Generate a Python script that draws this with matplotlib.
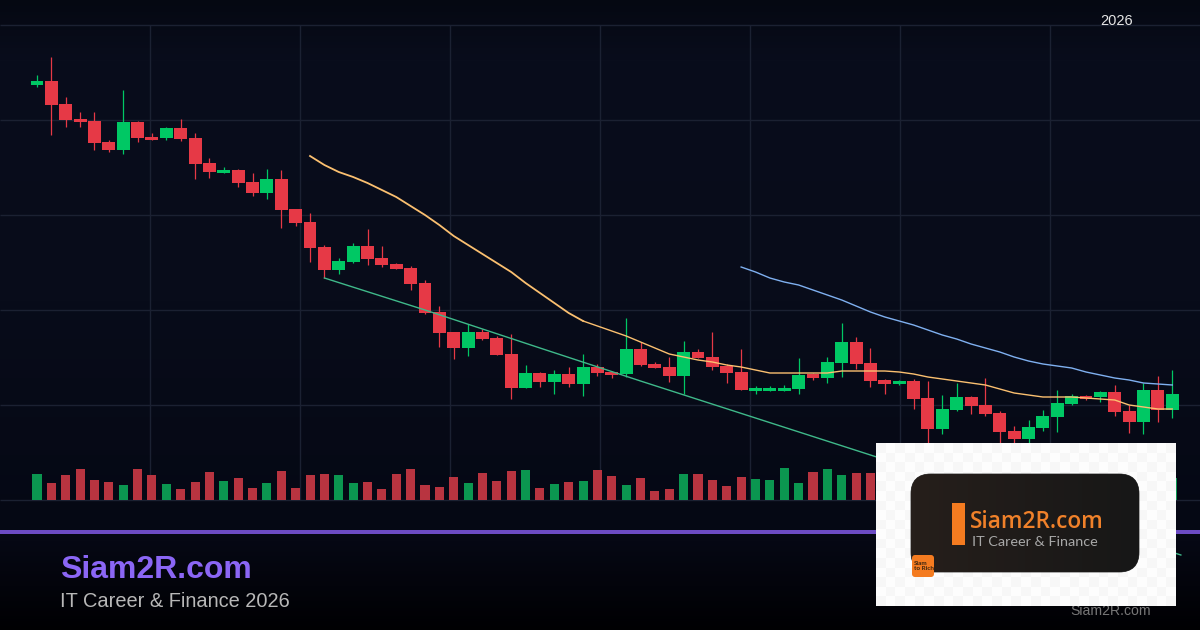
import numpy as np
import matplotlib
matplotlib.use("Agg")
import matplotlib.pyplot as plt
from matplotlib.patches import FancyBboxPatch, Rectangle

# prezzi (nessuna scala nel riferimento, unita' arbitrarie)
opens = [415, 419, 396, 381, 379, 358, 350, 378, 363, 362,
         372, 362, 337, 327, 330, 318, 307, 321, 291, 278,
         253, 230, 238, 254, 242, 236, 232, 217, 188, 168,
         152, 168, 162, 146, 112, 127, 118, 126, 116, 133,
         128, 126, 151, 136, 133, 124, 148, 143, 134, 128,
         109, 109, 109, 111, 126, 122, 137, 158, 137, 120,
         116, 119, 102, 71, 90, 103, 95, 87, 69, 61,
         72, 83, 96, 104, 103, 108, 89, 78, 110, 90]
closes = [419, 395, 380, 378, 357, 350, 378, 362, 360, 372,
          361, 336, 328, 330, 317, 307, 321, 290, 277, 252,
          230, 239, 254, 241, 235, 231, 216, 187, 167, 152,
          168, 161, 145, 112, 127, 118, 126, 116, 133, 127,
          125, 151, 135, 132, 124, 148, 142, 133, 127, 110,
          112, 112, 112, 125, 122, 138, 158, 136, 119, 116,
          119, 101, 71, 91, 103, 94, 86, 68, 61, 73,
          84, 97, 104, 101, 108, 88, 78, 110, 90, 106]
highs = [425, 443, 403, 388, 388, 360, 410, 379, 367, 373,
         381, 367, 342, 333, 331, 327, 331, 330, 291, 287,
         255, 242, 257, 271, 254, 237, 234, 220, 194, 168,
         176, 171, 164, 166, 135, 128, 130, 133, 146, 136,
         129, 182, 158, 138, 143, 159, 151, 168, 136, 151,
         114, 114, 115, 142, 127, 143, 177, 163, 152, 121,
         120, 121, 119, 105, 117, 104, 122, 89, 74, 80,
         90, 110, 106, 105, 109, 115, 95, 117, 124, 130]
lows = [413, 365, 373, 373, 350, 348, 346, 358, 360, 360,
        359, 321, 322, 327, 313, 304, 301, 272, 274, 238,
        222, 226, 237, 235, 233, 231, 210, 186, 153, 141,
        144, 160, 145, 101, 112, 113, 106, 113, 104, 124,
        122, 123, 134, 132, 118, 106, 142, 130, 117, 110,
        106, 109, 109, 106, 120, 117, 123, 131, 113, 106,
        115, 91, 50, 66, 89, 86, 84, 50, 50, 50,
        69, 68, 95, 100, 98, 84, 67, 66, 78, 82]
# i volumi da 59 a 78 sono coperti dal logo: stimati
volumes = [26, 17, 25, 31, 20, 18, 15, 31, 25, 16,
           11, 18, 28, 19, 22, 12, 17, 29, 12, 25,
           26, 25, 17, 18, 11, 26, 31, 15, 13, 23,
           17, 27, 19, 29, 30, 12, 16, 18, 19, 30,
           24, 15, 22, 9, 11, 26, 26, 20, 14, 23,
           21, 20, 32, 17, 28, 31, 25, 27, 27, 20,
           18, 24, 26, 22, 19, 16, 21, 25, 27, 22,
           18, 20, 14, 17, 16, 24, 23, 28, 26, 22]

# medie mobili
ma_fast_start = 19
ma_fast = [344, 335, 328, 323, 317, 310, 303, 294, 285, 275,
           264, 255, 246, 237, 228, 217, 207, 197, 187, 179,
           174, 169, 164, 158, 152, 146, 143, 140, 138, 135,
           133, 130, 127, 127, 127, 127, 127, 129, 129, 129,
           129, 128, 126, 123, 121, 119, 117, 115, 111, 107,
           105, 103, 103, 103, 102, 101, 100, 95, 93, 91, 91]
ma_slow_start = 49
ma_slow = [233, 228, 222, 218, 215, 210, 205, 200, 194, 188,
           183, 179, 175, 170, 165, 161, 156, 152, 148, 143,
           139, 136, 134, 132, 128, 125, 122, 120, 117, 116, 115]
# linea verde: vertici letti, il tratto sotto il logo e' stimato
trend_idx = [20, 27, 35, 42, 50, 58, 79.6]
trend_val = [222, 190, 152, 119, 82, 45, -55]

up_col, down_col = "#00c864", "#e63946"
vol_up, vol_down = "#0b9650", "#b83440"
grid_col = "#1b2132"

W, H = 1200, 630
CANDLE_X0, CANDLE_STEP = 37.0, 14.37
BASE_Y = 500  # riga di base del volume, in pixel


def px_to_idx(px):
    return (px - CANDLE_X0) / CANDLE_STEP


fig = plt.figure(figsize=(12, 6.3), dpi=100)

# sfondo sfumato
bg = fig.add_axes([0, 0, 1, 1], zorder=0)
grad = np.zeros((H, 1, 3))
stops_y = [0, 60, 300, 532, 540, 630]
stops_r = [5, 9, 8, 5, 6, 0]
stops_g = [8, 13, 12, 8, 8, 0]
stops_b = [18, 28, 26, 20, 20, 2]
yy = np.arange(H)
grad[:, 0, 0] = np.interp(yy, stops_y, stops_r) / 255
grad[:, 0, 1] = np.interp(yy, stops_y, stops_g) / 255
grad[:, 0, 2] = np.interp(yy, stops_y, stops_b) / 255
bg.imshow(grad, aspect="auto", extent=(0, W, H, 0))
bg.axis("off")

# grafico
ax = fig.add_axes([0, 0, 1, 1], zorder=1)
ax.patch.set_alpha(0)
ax.set_xlim(px_to_idx(0), px_to_idx(W))
ax.set_ylim(BASE_Y - H, BASE_Y)
ax.axis("off")

grid_prices = [0, 95, 190, 285, 380, 475]
grid_px = [150, 300, 450, 600, 750, 900, 1050]
ax.hlines(grid_prices, px_to_idx(0), px_to_idx(W), color=grid_col, lw=1, zorder=1)
ax.vlines([px_to_idx(p) for p in grid_px], 0, 475, color=grid_col, lw=1, zorder=1)

idx = np.arange(len(opens))
o, c = np.array(opens), np.array(closes)
is_up = c >= o
colors = [up_col if u else down_col for u in is_up]
ax.vlines(idx, lows, highs, color=colors, lw=0.9, zorder=2)
ax.bar(idx, np.abs(c - o), bottom=np.minimum(o, c), width=0.9, color=colors, zorder=3)
ax.bar(idx, volumes, width=0.63, color=[vol_up if u else vol_down for u in is_up], zorder=3)

# la media veloce e' piu' spessa nel primo tratto
fast_x = np.arange(len(ma_fast)) + ma_fast_start
ax.plot(fast_x[:20], ma_fast[:20], color="#fbc070", lw=1.3, zorder=4)
ax.plot(fast_x[19:], ma_fast[19:], color="#fbc070", lw=1.0, zorder=4)
ax.plot(np.arange(len(ma_slow)) + ma_slow_start, ma_slow, color="#7fb0f0", lw=1.0, zorder=4)
ax.plot(trend_idx, trend_val, color="#3fb98a", lw=1.0, zorder=4)

# strato in pixel per testi e logo
ov = fig.add_axes([0, 0, 1, 1], zorder=2)
ov.patch.set_alpha(0)
ov.axis("off")

ov.add_patch(Rectangle((0, 530), W, 3.5, color="#6c4cc4", lw=0))
ov.text(1100, 25, "2026", color="#e6e6e6", fontsize=10.5, family="Liberation Sans")
ov.text(60, 578, "Siam2R.com", color="#8b66f5", fontsize=23, fontweight="bold",
        family="Liberation Sans")
ov.text(60, 607, "IT Career & Finance 2026", color="#b8b8b8", fontsize=14.4,
        family="Liberation Sans")
ov.text(1070, 615, "Siam2R.com", color="#777777", fontsize=10.1,
        family="Liberation Sans")

# logo con fondo a scacchi
lx0, ly0, lx1, ly1 = 876, 443, 1176, 606
ny, nx = (ly1 - ly0) // 10 + 1, (lx1 - lx0) // 10 + 1
check = 0.965 + 0.025 * (np.indices((ny, nx)).sum(axis=0) % 2)
ov.imshow(check, cmap="gray", vmin=0, vmax=1, aspect="auto",
          extent=(lx0, lx1, ly1, ly0), interpolation="nearest", zorder=5)
box = FancyBboxPatch((911 + 20, 474 + 20), 228 - 40, 98 - 40,
                     boxstyle="round,pad=20,rounding_size=20",
                     fc="#1c1b1b", ec="#3a3a3a", lw=0.6, zorder=6)
ov.add_patch(box)
shade = np.zeros((1, 64, 3))
shade[0, :, 0] = np.linspace(0x26, 0x17, 64) / 255
shade[0, :, 1] = np.linspace(0x1f, 0x17, 64) / 255
shade[0, :, 2] = np.linspace(0x1b, 0x17, 64) / 255
shade_im = ov.imshow(shade, aspect="auto", extent=(911, 1139, 572, 474), zorder=6)
shade_im.set_clip_path(box)
ov.set_xlim(0, W)
ov.set_ylim(H, 0)

ov.add_patch(Rectangle((952, 503), 13, 42, color="#f47b20", lw=0, zorder=7))
ov.text(970, 528, "Siam2R.com", color="#f0812a", fontsize=16.3, fontweight="semibold",
        family="Open Sans", zorder=7)
ov.text(972, 546, "IT Career & Finance", color="#a8a8a8", fontsize=10.4,
        family="Lato", zorder=7)
ov.add_patch(FancyBboxPatch((914, 557), 18, 18, boxstyle="round,pad=2,rounding_size=3",
                            fc="#f47b20", ec="none", zorder=7))
ov.text(914, 566, "Siam\nto Rich", color="#3a2410", fontsize=4.6, fontweight="bold",
        family="Lato", va="center", linespacing=1.1, zorder=8)

fig.savefig("out.png", dpi=100)
